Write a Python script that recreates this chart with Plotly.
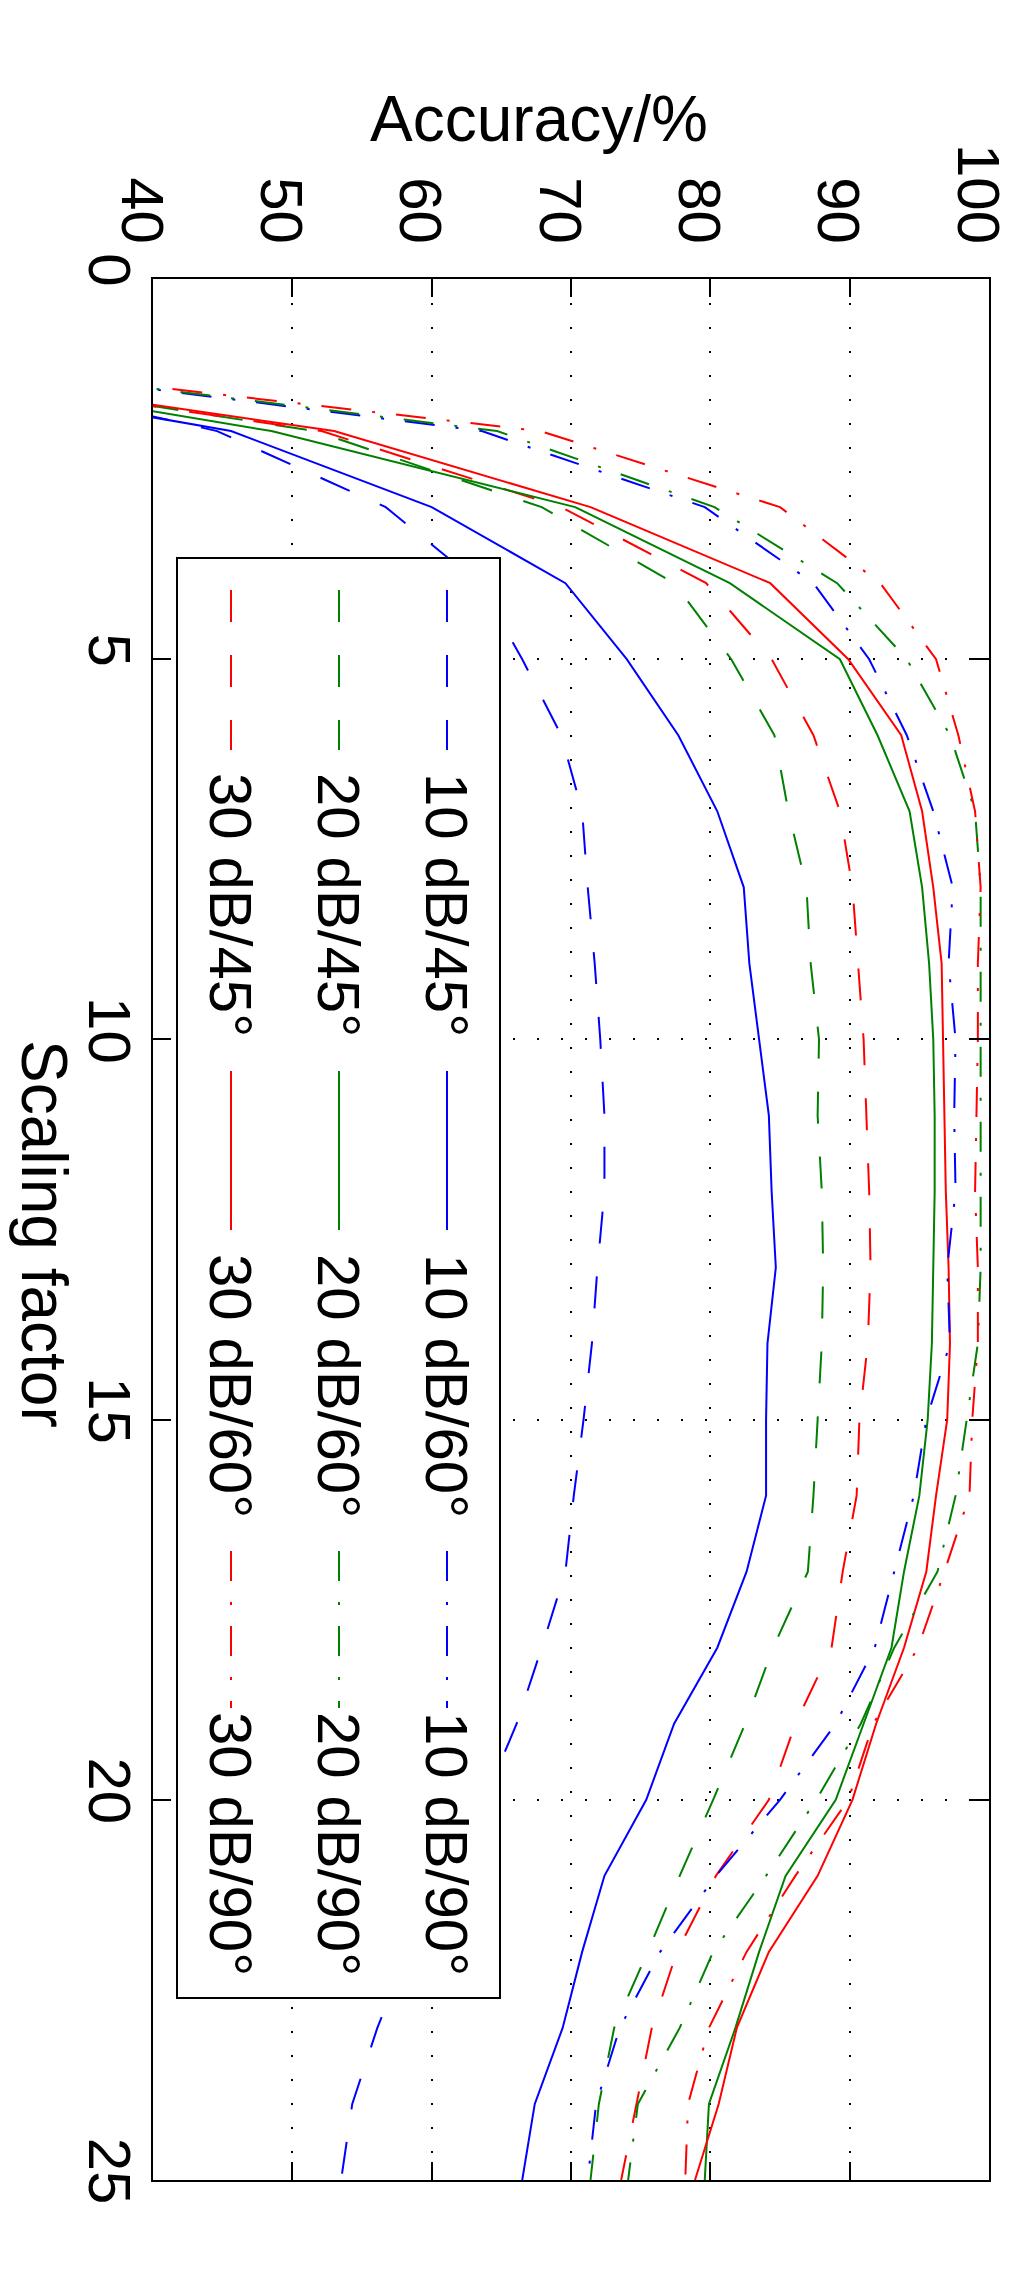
import plotly.graph_objects as go

# ---------------- data ----------------
scaling_factor = list(range(1, 26))

acc_10dB_45 = [20.7, 44.6, 56.7, 63.4, 66.5, 69.3, 70.8, 71.2, 71.7, 72.1, 72.4, 72.4, 71.9,
               71.5, 70.9, 70.2, 69.6, 67.9, 66.1, 63.8, 61.0, 58.3, 56.1, 54.3, 53.5]
acc_20dB_45 = [16.5, 51.6, 67.9, 77.4, 81.5, 84.6, 85.6, 86.9, 87.2, 87.8, 87.7, 88.0, 88.1,
               88.0, 87.7, 87.4, 87.0, 84.5, 82.5, 80.2, 77.8, 75.5, 73.1, 72.0, 71.4]
acc_30dB_45 = [14.9, 52.1, 69.3, 79.7, 84.4, 87.4, 89.3, 90.2, 90.6, 91.0, 91.2, 91.4, 91.5,
               91.3, 90.7, 90.5, 89.5, 88.7, 86.1, 84.2, 80.4, 77.6, 75.8, 74.7, 73.6]
acc_10dB_60 = [14.5, 45.6, 60.0, 69.6, 74.0, 77.7, 80.5, 82.4, 82.8, 83.5, 84.2, 84.4, 84.7,
               84.1, 84.0, 84.0, 82.6, 80.5, 77.4, 75.4, 72.4, 70.8, 69.4, 67.4, 66.5]
acc_20dB_60 = [15.8, 48.5, 70.3, 81.4, 89.3, 92.0, 94.3, 95.2, 95.7, 96.0, 96.1, 96.1, 96.0,
               95.9, 95.6, 95.0, 93.9, 93.0, 91.0, 89.0, 85.4, 83.5, 81.8, 79.9, 79.6]
acc_30dB_60 = [15.4, 53.0, 71.4, 84.3, 89.9, 93.7, 95.2, 96.0, 96.6, 96.7, 96.8, 96.9, 97.1,
               97.2, 97.0, 96.2, 95.5, 93.9, 91.9, 90.2, 87.7, 84.2, 81.9, 80.6, 78.9]
acc_10dB_90 = [20.7, 63.6, 79.6, 87.4, 91.4, 94.1, 96.0, 97.4, 97.1, 97.6, 97.5, 97.6, 97.0,
               97.2, 95.5, 94.6, 93.2, 91.8, 89.0, 85.0, 80.4, 76.4, 73.5, 71.8, 71.2]
acc_20dB_90 = [20.6, 64.7, 80.3, 89.1, 94.1, 97.2, 99.0, 99.4, 99.4, 99.4, 99.4, 99.4, 99.4,
               99.2, 98.4, 97.6, 96.3, 93.2, 90.8, 87.6, 84.0, 80.2, 77.8, 74.8, 74.1]
acc_30dB_90 = [20.0, 67.8, 85.0, 92.2, 96.2, 97.8, 99.0, 99.4, 99.2, 99.2, 99.1, 99.0, 99.2,
               99.2, 98.8, 98.6, 96.8, 94.9, 91.7, 89.9, 86.1, 82.6, 79.9, 78.4, 78.2]

series_names = ["10 dB/45°", "20 dB/45°", "30 dB/45°",
                "10 dB/60°", "20 dB/60°", "30 dB/60°",
                "10 dB/90°", "20 dB/90°", "30 dB/90°"]
series_values = [acc_10dB_45, acc_20dB_45, acc_30dB_45,
                 acc_10dB_60, acc_20dB_60, acc_30dB_60,
                 acc_10dB_90, acc_20dB_90, acc_30dB_90]

x_ticks = [40, 50, 60, 70, 80, 90, 100]
y_ticks = [0, 5, 10, 15, 20, 25]

# ---------------- styles ----------------
BLUE, GREEN, RED = "#0000FF", "#008000", "#FF0000"
DASHED = "32px,33px"
DASHDOT = "30px,21px,3px,21px"
colors = [BLUE, GREEN, RED] * 3
dashes = [DASHED] * 3 + ["solid"] * 3 + [DASHDOT] * 3
FONT = "Liberation Sans, Arial, Helvetica, sans-serif"

W, H = 1036, 2293
L, R, T, B = 145, 981, 271, 2172


def px(x):
    return (x - L) / (R - L)


def py(y):
    return (B - y) / (B - T)


fig = go.Figure()
for name, vals, c, d in zip(series_names, series_values, colors, dashes):
    fig.add_trace(go.Scatter(x=vals, y=scaling_factor, mode="lines", name=name,
                             line=dict(color=c, width=2, dash=d), showlegend=False))

axis_common = dict(
    ticks="inside", ticklen=18, tickwidth=2, tickcolor="black",
    showline=True, linewidth=2, linecolor="black", mirror="ticks",
    showgrid=True, gridcolor="black", gridwidth=1.5, griddash="2px,22px",
    zeroline=False, tickangle=90,
    tickfont=dict(family=FONT, size=60, color="black"),
)

fig.update_xaxes(range=[40, 100], side="top", tickvals=x_ticks,
                 ticktext=[str(v) for v in x_ticks], ticklabelstandoff=12,
                 ticklabelshift=-12, **axis_common)
fig.update_yaxes(range=[25, 0], tickvals=y_ticks,
                 ticktext=[str(v) for v in y_ticks], **axis_common)
try:
    fig.update_yaxes(ticklabelstandoff=-10)
except Exception:
    fig.update_yaxes(ticklabelstandoff=0)

# ---------------- legend (drawn rotated, like the reference) ----------------
shapes = [dict(type="rect", xref="paper", yref="paper",
               x0=px(169), x1=px(492), y0=py(1990), y1=py(550),
               fillcolor="white", line=dict(color="black", width=2), layer="above")]
annotations = []
col_x = {"10": 439, "20": 331, "30": 223}
rows = [  # sample y-range, text center y
    ((582, 742), 897),
    ((1063, 1222), 1378),
    ((1543, 1700), 1836),
]
for i, (name, c, d) in enumerate(zip(series_names, colors, dashes)):
    col = col_x[name[:2]]
    (ys0, ys1), ty = rows[i // 3]
    shapes.append(dict(type="line", xref="paper", yref="paper",
                       x0=px(col), x1=px(col), y0=py(ys0), y1=py(ys1),
                       line=dict(color=c, width=2, dash=d), layer="above"))
    annotations.append(dict(text=name, xref="paper", yref="paper",
                            x=px(col), y=py(ty), xanchor="center", yanchor="middle",
                            textangle=90, showarrow=False,
                            font=dict(family=FONT, size=60, color="black")))

# axis titles
annotations.append(dict(text="Accuracy/%", xref="paper", yref="paper",
                        x=px(531), y=py(111), xanchor="center", yanchor="middle",
                        showarrow=False, font=dict(family=FONT, size=64, color="black")))
annotations.append(dict(text="Scaling factor", xref="paper", yref="paper",
                        x=px(36), y=py(1226), xanchor="center", yanchor="middle",
                        textangle=90, showarrow=False,
                        font=dict(family=FONT, size=64, color="black")))

fig.update_layout(width=W, height=H, margin=dict(l=L, r=W - R, t=T, b=H - B),
                  paper_bgcolor="white", plot_bgcolor="white",
                  shapes=shapes, annotations=annotations, showlegend=False,
                  font=dict(family=FONT))

fig.write_html("out.html")
